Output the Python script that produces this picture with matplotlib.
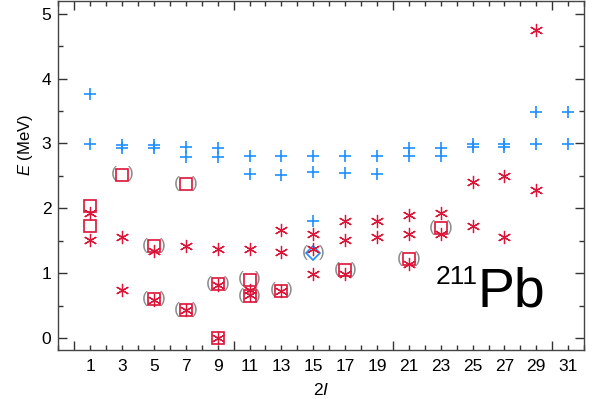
import matplotlib
matplotlib.use("Agg")
import matplotlib.pyplot as plt
from matplotlib.ticker import MultipleLocator, FixedLocator, FuncFormatter

plt.rcParams['font.family'] = ['Liberation Sans', 'DejaVu Sans']
plt.rcParams['mathtext.fontset'] = 'custom'
plt.rcParams['mathtext.rm'] = 'Liberation Sans'
plt.rcParams['mathtext.it'] = 'Liberation Sans:italic'

# 계산값 1 (파란 +)
calc1_2j = [1, 1, 3, 3, 5, 5, 7, 7, 9, 9, 11, 11, 13, 13, 15, 15, 15, 17, 17,
            19, 19, 21, 21, 23, 23, 25, 25, 27, 27, 29, 29, 31, 31]
calc1_e = [3.76, 2.99, 2.98, 2.93, 2.98, 2.93, 2.94, 2.79, 2.93, 2.79,
           2.81, 2.53, 2.80, 2.51, 2.80, 2.56, 1.81, 2.80, 2.54,
           2.80, 2.53, 2.93, 2.80, 2.93, 2.80, 2.99, 2.94, 2.99, 2.94,
           3.49, 2.99, 3.49, 2.99]

# 계산값 2 (빨간 *)
calc2_2j = [1, 1, 3, 3, 5, 5, 7, 7, 9, 9, 9, 11, 11, 11, 13, 13, 13,
            15, 15, 15, 17, 17, 17, 19, 19, 21, 21, 21, 23, 23, 25, 25,
            27, 27, 29, 29]
calc2_e = [1.93, 1.51, 1.56, 0.74, 1.34, 0.59, 1.42, 0.43, 1.37, 0.82, 0.0,
           1.37, 0.74, 0.67, 1.67, 1.32, 0.72, 1.60, 1.37, 0.99,
           1.81, 1.51, 0.99, 1.81, 1.55, 1.90, 1.61, 1.14, 1.93, 1.61,
           2.41, 1.72, 2.50, 1.55, 4.75, 2.28]

# 실험값 (빨간 사각형)
exp_2j = [1, 1, 3, 5, 5, 7, 7, 9, 9, 11, 11, 13, 17, 21, 23]
exp_e = [2.04, 1.72, 2.52, 1.42, 0.60, 2.37, 0.43, 0.83, 0.0, 0.90, 0.65,
         0.73, 1.05, 1.22, 1.70]
exp_tentative = [False, False, True, True, True, True, True, True, False,
                 True, True, True, True, True, True]

# 파란 마름모
dia_2j = [15]
dia_e = [1.31]

blue = '#1E8FFF'
red = '#DC1438'

fig = plt.figure(figsize=(5.96, 3.99), dpi=100)
ax = fig.add_axes([0.098, 0.122, 0.882, 0.876])

# 괄호 (불확실한 준위)
for x, y, t in zip(exp_2j + dia_2j, exp_e + dia_e, exp_tentative + [True]):
    if t:
        for s, dx in (('(', -6.3), (')', 6.3)):
            ax.annotate(s, xy=(x, y), xytext=(dx, 0.5), textcoords='offset points',
                        color='#8c8c8c', fontsize=12.5, ha='center', va='center',
                        zorder=1)

ax.plot(exp_2j, exp_e, 's', ms=8.5, mfc='none', mec=red, mew=1.2, zorder=2)
ax.plot(dia_2j, dia_e, 'D', ms=7.2, mfc='none', mec=blue, mew=1.2, zorder=2)
ax.plot(calc2_2j, calc2_e, ls='none', marker=(6, 2, 0), ms=9.5, mec=red,
        mew=0.9, zorder=3)
ax.plot(calc1_2j, calc1_e, '+', ms=9, mec=blue, mew=1.2, zorder=3)

ax.set_xlim(-1, 32)
ax.set_ylim(-0.19, 5.2)

ax.xaxis.set_major_locator(FixedLocator([0, 10, 20, 30]))
ax.xaxis.set_minor_locator(MultipleLocator(1))
ax.xaxis.set_major_formatter(FuncFormatter(lambda v, p: ''))
ax.xaxis.set_minor_formatter(
    FuncFormatter(lambda v, p: f'{int(round(v))}' if (int(round(v)) % 2 == 1 and 1 <= v <= 31) else ''))
ax.yaxis.set_major_locator(MultipleLocator(1))
ax.yaxis.set_minor_locator(MultipleLocator(0.5))

ax.tick_params(axis='both', which='both', direction='in', top=True, right=True,
               color='#333333', width=1.0)
ax.tick_params(axis='both', which='major', length=6.5)
ax.tick_params(axis='both', which='minor', length=3.5)
ax.tick_params(axis='x', which='minor', labelbottom=True, labelsize=12.5, pad=6)
ax.tick_params(axis='y', which='major', labelsize=12.5, pad=5)
for s in ax.spines.values():
    s.set_color('#444444')
    s.set_linewidth(1.0)

ax.set_xlabel(r'2$\it{I}$', fontsize=12.5)
ax.xaxis.set_label_coords(0.5, -0.09)
ax.set_ylabel(r'$E$ (MeV)', fontsize=12)
ax.yaxis.set_label_coords(-0.045, 0.588)

ax.text(0.797, 0.125, 'Pb', fontsize=40, transform=ax.transAxes,
        ha='left', va='baseline')
ax.text(0.797, 0.19, '211', fontsize=19, transform=ax.transAxes,
        ha='right', va='baseline')

fig.savefig('out.png', dpi=100)
